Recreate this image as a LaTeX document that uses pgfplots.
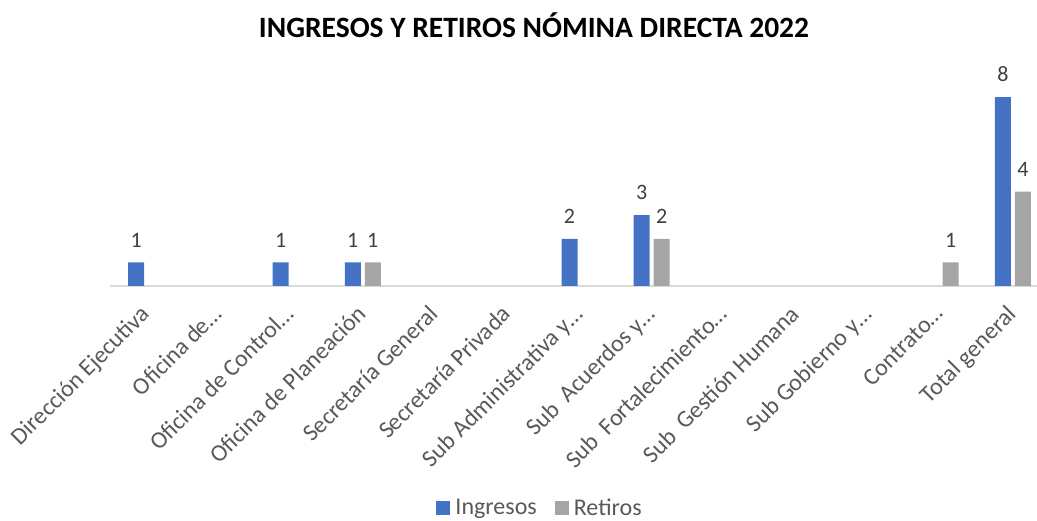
\documentclass[border=0pt]{standalone}
\usepackage{pgfplots}
\pgfplotsset{compat=1.18}
\usepackage{fontspec}
\setmainfont{Carlito}
\definecolor{cblue}{HTML}{4472C4}
\definecolor{cgray}{HTML}{A5A5A5}
\definecolor{ctext}{HTML}{595959}
\definecolor{clab}{HTML}{404040}
\definecolor{caxis}{HTML}{D9D9D9}
\begin{document}
\begin{tikzpicture}[x=1pt,y=1pt]
\path[use as bounding box] (0,0) rectangle (1037,521);
\begin{axis}[
  at={(110pt,235pt)}, anchor=south west,
  scale only axis, width=939pt, height=212.4pt,
  xmin=-0.5, xmax=12.5, ymin=0, ymax=9,
  axis x line=bottom, axis y line=none,
  x axis line style={draw=caxis, line width=1.5pt, -},
  ybar, bar width=16pt,
  xtick={0,...,12},
  xticklabels={Dirección Ejecutiva, Oficina de…, Oficina de Control…, Oficina de Planeación, Secretaría General, Secretaría Privada, Sub Administrativa y…, Sub\ \ Acuerdos y…, Sub\ \ Fortalecimiento…, Sub\ \ Gestión Humana, Sub Gobierno y…, Contrato…, Total general},
  xticklabel style={xshift=-7pt, yshift=-15pt, rotate=45, anchor=north east, font=\fontsize{24}{28}\selectfont, text=ctext, inner sep=2pt},
  major tick length=0pt,
  ytick=\empty,
  /pgf/number format/assume math mode=true,
  nodes near coords,
  every node near coord/.append style={font=\fontsize{22}{26}\selectfont, text=clab, anchor=south, inner sep=2pt, yshift=13pt},
  legend style={at={(0.458,-1.045)}, anchor=center, draw=none, fill=none, legend columns=2, font=\fontsize{24}{28}\selectfont, text=ctext, /tikz/every even column/.append style={column sep=16pt}},
  clip=false,
]
\addlegendimage{legend image code/.code={\node[fill=cblue, minimum width=14pt, minimum height=14pt, inner sep=0pt, outer sep=0pt, anchor=west] at (0pt,0pt) {};}}
\addlegendentry{\hspace{3pt}Ingresos}
\addlegendimage{legend image code/.code={\node[fill=cgray, minimum width=14pt, minimum height=14pt, inner sep=0pt, outer sep=0pt, anchor=west] at (0pt,0pt) {};}}
\addlegendentry{\hspace{3pt}Retiros}
\addplot[fill=cblue, draw=none, bar shift=-10pt, forget plot] coordinates {(0,1) (2,1) (3,1) (6,2) (7,3) (12,8)};
\addplot[fill=cgray, draw=none, bar shift=10pt, forget plot] coordinates {(3,1) (7,2) (11,1) (12,4)};
\end{axis}
\node[font=\fontsize{29.5}{34}\selectfont\bfseries] at (534,496) {INGRESOS Y RETIROS NÓMINA DIRECTA 2022};
\end{tikzpicture}
\end{document}
